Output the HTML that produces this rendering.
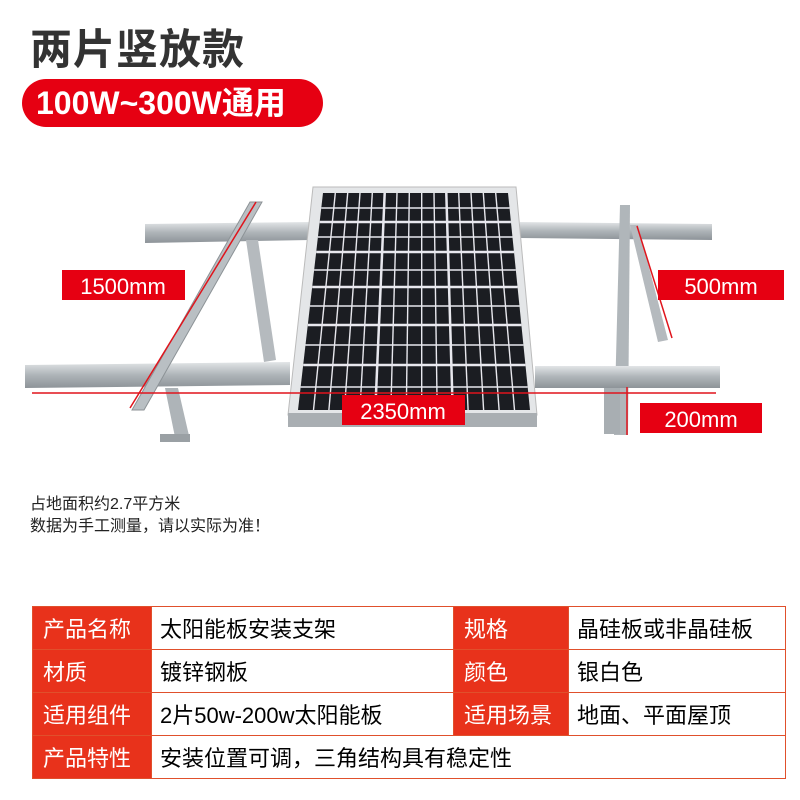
<!DOCTYPE html>
<html><head><meta charset="utf-8"><style>
body{margin:0;width:800px;height:800px;background:#fff;overflow:hidden;font-family:"Liberation Sans","Noto Sans CJK SC",sans-serif;position:relative}
.t1{position:absolute;left:30px;top:16px;font-size:42px;font-weight:bold;color:#333;letter-spacing:1px}
.pill{position:absolute;left:22px;top:79px;width:301px;height:48px;background:#e60012;border-radius:24px;color:#fff;font-size:32px;font-weight:bold;line-height:48px;text-indent:14px;white-space:nowrap}
.note{position:absolute;left:30px;top:494px;font-size:16px;color:#222;line-height:22px}
table{position:absolute;left:32px;top:606px;width:754px;border-collapse:collapse;font-size:22px}
td{height:42px;border:1px solid #e0502c;padding:0 0 0 8px;white-space:nowrap}
td.r{background:#e8321b;color:#fff;padding-left:10px}
</style></head><body>
<div class="t1">两片竖放款</div>
<div class="pill">100W~300W通用</div>
<svg width="800" height="800" style="position:absolute;left:0;top:0">
<defs><linearGradient id="m" x1="0" y1="0" x2="0" y2="1"><stop offset="0" stop-color="#e2e5e7"/><stop offset=".5" stop-color="#aeb4b8"/><stop offset="1" stop-color="#8d9398"/></linearGradient></defs>
<polygon points="145,224 310,222 310,240 145,243" fill="url(#m)"/>
<polygon points="520,222 712,224 712,240 520,238" fill="url(#m)"/>
<polygon points="246,240 258,240 276,360 264,362" fill="#b5babe"/>
<polygon points="620,205 630,205 628,435 614,435" fill="#b0b6ba"/>
<polygon points="630,225 638,225 668,340 658,342" fill="#b5babe"/>
<polygon points="313,187 516,187 537,415 288,415" fill="#e4e6e8" stroke="#bbb"/>
<polygon points="288,413 537,413 537,427 288,427" fill="#a9aeb2"/>
<polygon points="323,193 508,193 530,410 298,410" fill="#1b1d22"/>
<g stroke="#e8e8ee" stroke-width="1.4">
<line x1="335.3" y1="193" x2="313.5" y2="410"/><line x1="347.7" y1="193" x2="328.9" y2="410"/><line x1="360" y1="193" x2="344.4" y2="410"/><line x1="372.3" y1="193" x2="359.9" y2="410"/><line x1="384.7" y1="193" x2="375.3" y2="410" stroke-width="2.5"/><line x1="397" y1="193" x2="390.8" y2="410"/><line x1="409.3" y1="193" x2="406.3" y2="410"/><line x1="421.7" y1="193" x2="421.7" y2="410"/><line x1="434" y1="193" x2="437.2" y2="410"/><line x1="446.3" y1="193" x2="452.7" y2="410" stroke-width="2.5"/><line x1="458.7" y1="193" x2="468.1" y2="410"/><line x1="471" y1="193" x2="483.6" y2="410"/><line x1="483.3" y1="193" x2="499.1" y2="410"/><line x1="495.7" y1="193" x2="514.5" y2="410"/>
<line x1="321.3" y1="208" x2="509.5" y2="208"/><line x1="319.7" y1="222" x2="510.9" y2="222" stroke-width="2.5"/><line x1="317.9" y1="237" x2="512.5" y2="237"/><line x1="316.2" y1="252" x2="514" y2="252" stroke-width="2.5"/><line x1="314.1" y1="270" x2="515.8" y2="270"/><line x1="312.2" y1="287" x2="517.5" y2="287" stroke-width="2.5"/><line x1="310" y1="306" x2="519.5" y2="306"/><line x1="307.8" y1="325" x2="521.4" y2="325" stroke-width="2.5"/><line x1="305.5" y1="345" x2="523.4" y2="345"/><line x1="303.2" y1="365" x2="525.4" y2="365" stroke-width="2.5"/><line x1="300.6" y1="387" x2="527.7" y2="387"/>
</g>
<polygon points="25,365 290,362 290,385 25,388" fill="url(#m)"/>
<polygon points="535,366 720,366 720,388 535,388" fill="url(#m)"/>
<polygon points="250,202 262,202 144,410 132,410" fill="#b9bfc3" stroke="#8c9296"/>
<polygon points="165,388 178,388 190,440 176,442" fill="#aeb4b8"/>
<rect x="160" y="434" width="30" height="8" fill="#9aa0a4"/>
<rect x="604" y="388" width="16" height="46" fill="#a8aeb2"/>
<g stroke="#e0141c" stroke-width="1.5" fill="#e0141c">
<line x1="32" y1="393" x2="716" y2="393"/>
<line x1="256" y1="202" x2="130" y2="408"/>
<line x1="637" y1="226" x2="672" y2="338"/>
<line x1="627" y1="387" x2="627" y2="435"/>
</g>
<rect x="62" y="270" width="123" height="30" fill="#e60012"/><text x="123" y="294" font-size="22" fill="#fff" text-anchor="middle" font-family="Liberation Sans">1500mm</text>
<rect x="658" y="270" width="126" height="30" fill="#e60012"/><text x="721" y="294" font-size="22" fill="#fff" text-anchor="middle" font-family="Liberation Sans">500mm</text>
<rect x="640" y="403" width="122" height="30" fill="#e60012"/><text x="701" y="427" font-size="22" fill="#fff" text-anchor="middle" font-family="Liberation Sans">200mm</text>
<rect x="342" y="395" width="123" height="30" fill="#e60012"/><text x="403" y="419" font-size="22" fill="#fff" text-anchor="middle" font-family="Liberation Sans">2350mm</text>
</svg>
<div class="note">占地面积约2.7平方米<br>数据为手工测量，请以实际为准！</div>
<table>
<tr><td class="r" style="width:108px">产品名称</td><td style="width:293px">太阳能板安装支架</td><td class="r" style="width:104px">规格</td><td>晶硅板或非晶硅板</td></tr>
<tr><td class="r">材质</td><td>镀锌钢板</td><td class="r">颜色</td><td>银白色</td></tr>
<tr><td class="r">适用组件</td><td>2片50w-200w太阳能板</td><td class="r">适用场景</td><td>地面、平面屋顶</td></tr>
<tr><td class="r">产品特性</td><td colspan="3">安装位置可调，三角结构具有稳定性</td></tr>
</table>
</body></html>
